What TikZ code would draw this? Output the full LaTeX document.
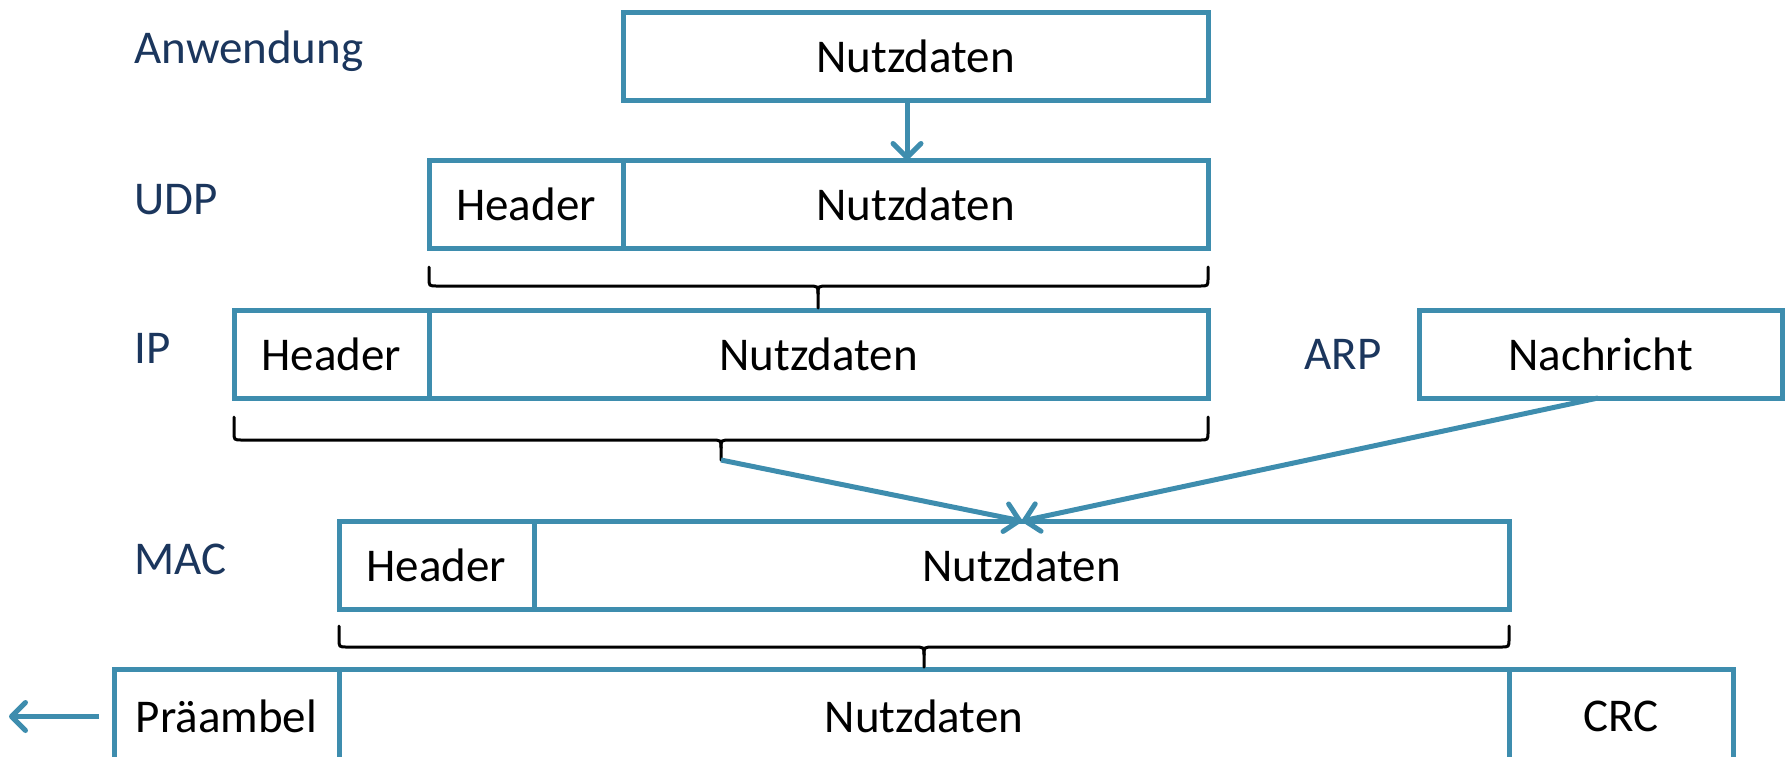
\documentclass[tikz,border=0pt]{standalone}
\usepackage{fontspec}
\setmainfont{Carlito}
\usetikzlibrary{arrows.meta,calc}
\definecolor{boxblue}{HTML}{3E8DAE}
\definecolor{layerblue}{HTML}{1B365D}

% brace under a row: left x, right x, tip x, top y, bar y, tip y
\newcommand\layerbrace[6]{%
  \draw[brace] (#1,#4) -- (#1,#5-8) .. controls (#1,#5) .. (#1+8,#5)
     -- (#3-10,#5) .. controls (#3,#5) .. (#3,#5+8) -- (#3,#6);
  \draw[brace] (#2,#4) -- (#2,#5-8) .. controls (#2,#5) .. (#2-8,#5)
     -- (#3+10,#5) .. controls (#3,#5) .. (#3,#5+8);
}

\begin{document}
\begin{tikzpicture}[x=0.5pt,y=-0.5pt,
  font=\fontsize{23.5}{28}\selectfont,
  cell/.style={draw=boxblue, line width=2.5pt, inner sep=0pt, outer sep=0pt,
    anchor=north west, minimum height=44pt},
  layer/.style={text=layerblue, anchor=west, inner sep=0pt},
  flow/.style={draw=boxblue, line width=2.5pt,
    -{Straight Barb[length=7pt,width=14pt,line cap=round,line join=round]}},
  brace/.style={draw=black, line width=1.5pt, line cap=round}]
\useasboundingbox (0,0) rectangle (1790,756);

% layer names
\node[layer] (lapp) at (134,51) {Anwendung};
\node[layer] (ludp) at (134,200) {UDP};
\node[layer] (lip)  at (134,348) {IP};
\node[layer] (lmac) at (134,559) {MAC};
\node[layer] (larp) at (1304,354) {ARP};

% application data
\node[cell, minimum width=292.5pt] (app) at (623,12) {Nutzdaten};

% UDP datagram
\node[cell, minimum width=97pt]    (udph) at (429,160) {Header};
\node[cell, minimum width=292.5pt] (udpd) at (623,160) {Nutzdaten};

% IP packet
\node[cell, minimum width=97.5pt]  (iph) at (234,310) {Header};
\node[cell, minimum width=389.5pt] (ipd) at (429,310) {Nutzdaten};

% ARP message
\node[cell, minimum width=181.5pt] (arp) at (1419,310) {Nachricht};

% MAC frame
\node[cell, minimum width=97.5pt]  (mach) at (339,521) {Header};
\node[cell, minimum width=487.5pt] (macd) at (534,521) {Nutzdaten};

% physical frame
\node[cell, minimum width=112.5pt, minimum height=47.5pt] (pre) at (114,669) {Präambel};
\node[cell, minimum width=585pt,   minimum height=47.5pt] (frd) at (339,669) {Nutzdaten};
\node[cell, minimum width=112pt,   minimum height=47.5pt] (crc) at (1509,669) {CRC};

% braces grouping each layer
\layerbrace{429}{1208}{818}{267}{286}{308}
\layerbrace{234}{1208}{721}{417}{440}{460}
\layerbrace{339}{1509}{924}{626}{647}{667}

% connectors
\coordinate (dropx) at (907,0);
\coordinate (iptip) at (721,460);
\coordinate (merge) at (1022,0);
\coordinate (arpx)  at (1598,0);
\coordinate (wire)  at (9,0);

\draw[flow] (app.south -| dropx) -- (udpd.north -| dropx);
\draw[flow] (iptip) -- (macd.north -| merge);
\draw[flow] (arp.south -| arpx) -- (macd.north -| merge);
\draw[flow] ([xshift=-7.5pt]pre.west) -- (pre.west -| wire);
\end{tikzpicture}
\end{document}
